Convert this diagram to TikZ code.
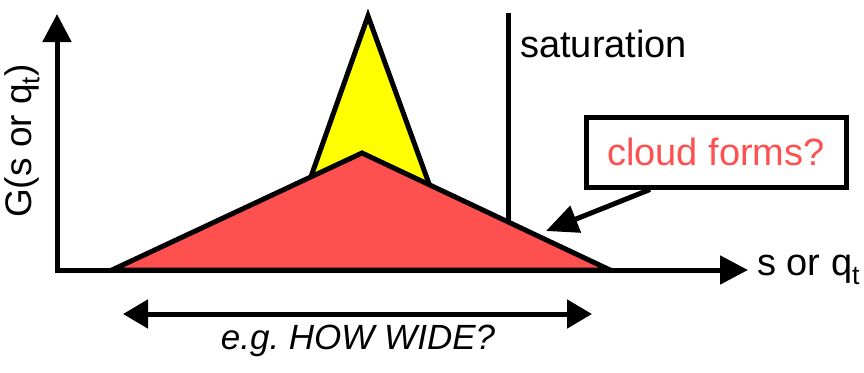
\documentclass[tikz,border=0pt]{standalone}
\usepackage{fontspec}
\setmainfont{Liberation Sans}
\usetikzlibrary{arrows.meta}
\definecolor{cloudred}{HTML}{FF5050}
\definecolor{spikeyellow}{HTML}{FFFF00}
\begin{document}
\begin{tikzpicture}[x=1pt,y=-1pt,
  thickline/.style={line width=5pt},
  lbl/.style={inner sep=0pt,font=\fontsize{38}{44}\selectfont},
  shapeline/.style={line width=5pt,line join=miter}]
\useasboundingbox (0,0) rectangle (864,372);
% coordinates
\coordinate (ytop) at (57,14);
\coordinate (origin) at (57,270);
\coordinate (xend) at (748,270);
\coordinate (satTop) at (508,13);
\coordinate (satBot) at (508,235);
\coordinate (rL) at (112,270);
\coordinate (rP) at (362,153);
\coordinate (rR) at (610,270);
\coordinate (yL) at (308,185);
\coordinate (yP) at (368,16);
\coordinate (yR) at (432,192);
\coordinate (wL) at (123,314);
\coordinate (wR) at (592,314);
\coordinate (cTip) at (546,231);
% axes
\draw[thickline,line join=miter,{Triangle[length=28pt,width=28pt]}-{Triangle[length=28pt,width=28pt]}] (ytop) -- (origin) -- (xend);
% saturation line
\draw[thickline] (satTop) -- (satBot);
% spike
\draw[shapeline,fill=spikeyellow] (yL) -- (yP) -- (yR) -- cycle;
% cloud triangle
\draw[shapeline,fill=cloudred] (rL) -- (rP) -- (rR) -- cycle;
% labels
\node[lbl,anchor=west] (sat) at (520,44) {saturation};
\node[lbl,anchor=west] (xlab) at (757,270) {s or q\textsubscript{t}};
\node[lbl,rotate=90,font=\fontsize{37}{44}\selectfont] (ylab) at (22,141) {G(s or q\textsubscript{t})};
\node[lbl,draw,line width=5pt,text=cloudred,minimum width=260pt,minimum height=70pt] (box) at (716,152) {cloud forms?};
\draw[thickline,-{Triangle[length=32pt,width=28pt]}] ([xshift=-66pt]box.south) -- (cTip);
% width arrow
\draw[thickline,{Triangle[length=25pt,width=28pt]}-{Triangle[length=25pt,width=28pt]}] (wL) -- (wR);
\node[lbl,font=\fontsize{35}{40}\selectfont\itshape] (wide) at (358,341) {e.g.\ HOW WIDE?};
\end{tikzpicture}
\end{document}
